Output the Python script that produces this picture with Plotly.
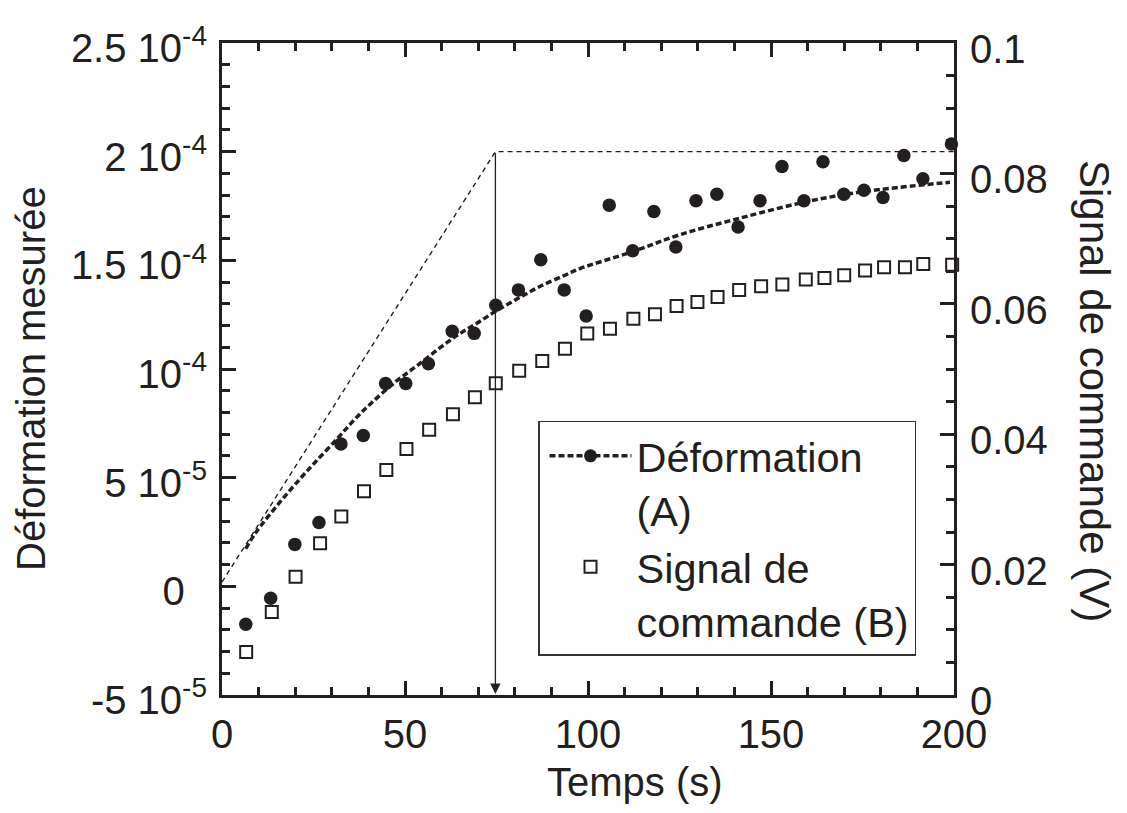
import plotly.graph_objects as go

# ---- data ----
t_def = [6.5, 13.3, 19.9, 26.5, 32.5, 38.6, 44.7, 50.2, 56.4, 62.9, 68.9, 74.8, 81.0, 87.1, 93.5,
         99.5, 105.8, 112.2, 118.0, 124.0, 129.5, 135.2, 141.0, 147.0, 153.0, 159.0, 164.2, 169.9,
         175.4, 180.6, 186.3, 191.5, 199.3]
def_e5 = [-1.74, -0.55, 1.93, 2.94, 6.55, 6.94, 9.33, 9.33, 10.24, 11.74, 11.64, 12.93, 13.64, 15.03,
          13.64, 12.44, 17.54, 15.44, 17.25, 15.61, 17.74, 18.04, 16.53, 17.74, 19.32, 17.74, 19.54,
          18.04, 18.22, 17.89, 19.82, 18.75, 20.35]

t_sig = [6.6, 13.6, 20.1, 26.8, 32.6, 38.8, 44.9, 50.4, 56.6, 63.1, 69.1, 74.8, 81.2, 87.5, 93.7,
         99.8, 106.0, 112.4, 118.3, 124.2, 129.9, 135.4, 141.3, 147.3, 153.1, 159.5, 164.6, 170.0,
         175.7, 180.9, 186.6, 191.6, 199.5]
sig_v = [0.00658, 0.01274, 0.01815, 0.02329, 0.02737, 0.03124, 0.03451, 0.03772, 0.04067, 0.04307,
         0.04567, 0.04781, 0.04974, 0.05122, 0.0531, 0.05543, 0.05616, 0.05772, 0.05841, 0.05968,
         0.06027, 0.06105, 0.06212, 0.06269, 0.06295, 0.06371, 0.06396, 0.06437, 0.06509, 0.06559,
         0.06559, 0.0661, 0.066]

fit_t = [6.5, 9.0, 15.8, 21.3, 25.4, 31.8, 36.3, 40.9, 47.7, 53.2, 59.6, 64.6, 69.6, 75.0, 81.0,
         87.1, 93.5, 97.8, 112.4, 125.1, 141.5, 159.8, 175.2, 198.9]
fit_e5 = [1.73, 2.42, 3.87, 4.94, 5.70, 6.85, 7.69, 8.45, 9.45, 10.14, 10.98, 11.59, 12.10, 12.68,
          13.26, 13.82, 14.30, 14.62, 15.41, 16.18, 16.94, 17.7, 18.16, 18.59]

# tau construction (tangent at origin, plateau, time constant)
tan_t = [0, 74.7, 200]
tan_e5 = [0.2, 20.0, 20.0]
tau = 74.7

y_tickvals = [-5e-5, 0, 5e-5, 1e-4, 1.5e-4, 2e-4, 2.5e-4]
y_ticktext = ["-5 10<sup>-5</sup>", "0\u00a0\u00a0", "5 10<sup>-5</sup>", "10<sup>-4</sup>",
              "1.5 10<sup>-4</sup>", "2 10<sup>-4</sup>", "2.5 10<sup>-4</sup>"]

INK = "#231f20"
FONT = "Liberation Sans, Arial, sans-serif"

# page body has an 8px default margin; plot area target: x 222-954, y 41-695 in the window
OFF = 8
L, T, PW, PH = 222 - OFF, 41 - OFF, 732, 654
W, H = 1127 - 2 * OFF, 813 - 2 * OFF


def px(xw):
    return (xw - 222) / PW


def py(yw):
    return (695 - yw) / PH


fig = go.Figure()

fig.add_trace(go.Scatter(x=tan_t, y=[v * 1e-5 for v in tan_e5], mode="lines",
                         line=dict(color=INK, width=1.4, dash="5px,4px"),
                         showlegend=False, hoverinfo="skip"))

fig.add_trace(go.Scatter(x=fit_t, y=[v * 1e-5 for v in fit_e5], mode="lines",
                         line=dict(color=INK, width=3.5, dash="6px,3px", shape="spline"),
                         showlegend=False))

fig.add_trace(go.Scatter(x=t_def, y=[v * 1e-5 for v in def_e5], mode="markers",
                         marker=dict(symbol="circle", size=13.5, color=INK),
                         showlegend=False, cliponaxis=False))

# legend entry for deformation (line + marker)
fig.add_trace(go.Scatter(x=[None], y=[None], mode="lines+markers",
                         name="Déformation<br>(A)",
                         line=dict(color=INK, width=3.5, dash="6px,3px"),
                         marker=dict(symbol="circle", size=13, color=INK)))

fig.add_trace(go.Scatter(x=t_sig, y=sig_v, yaxis="y2", mode="markers",
                         name="Signal de<br>commande (B)",
                         marker=dict(symbol="square-open", size=12, color=INK, line=dict(width=2, color=INK)),
                         cliponaxis=False))

fig.add_annotation(x=tau, y=-5e-5, ax=tau, ay=2e-4, xref="x", yref="y", axref="x", ayref="y",
                   showarrow=True, arrowhead=2, arrowsize=1.6, arrowwidth=1.3, arrowcolor=INK,
                   text="", standoff=1)

# axis titles
fig.add_annotation(text="Temps (s)", x=px(634.5), y=py(782), xref="paper", yref="paper",
                   xanchor="center", yanchor="middle", showarrow=False,
                   font=dict(size=40, color=INK, family=FONT))
fig.add_annotation(text="Déformation mesurée", x=px(31), y=py(378),
                   xref="paper", yref="paper", xanchor="center", yanchor="middle",
                   showarrow=False, textangle=-90,
                   font=dict(size=40, color=INK, family=FONT))
fig.add_annotation(text="Signal de commande (V)", x=px(1094), y=py(390),
                   xref="paper", yref="paper", xanchor="center", yanchor="middle",
                   showarrow=False, textangle=90,
                   font=dict(size=42, color=INK, family=FONT))

axis_common = dict(showline=True, linewidth=3, linecolor=INK, ticks="inside", tickwidth=2.5,
                   tickcolor=INK, ticklen=14, showgrid=False, zeroline=False,
                   tickfont=dict(size=40, color=INK, family=FONT))

fig.update_layout(
    width=W, height=H,
    margin=dict(l=L, r=W - L - PW, t=T, b=H - T - PH),
    paper_bgcolor="white", plot_bgcolor="white",
    font=dict(family=FONT, size=40, color=INK),
    xaxis=dict(range=[0, 200], tickvals=[0, 50, 100, 150, 200], mirror="ticks",
               minor=dict(tickmode="linear", tick0=0, dtick=10, ticklen=8, tickwidth=2.5,
                          tickcolor=INK, ticks="inside"),
               ticklabelstandoff=2, **axis_common),
    yaxis=dict(range=[-5e-5, 2.5e-4], tickmode="array", tickvals=y_tickvals, ticktext=y_ticktext,
               minor=dict(tickmode="linear", tick0=0, dtick=1e-5, ticklen=8, tickwidth=2.5,
                          tickcolor=INK, ticks="inside"),
               ticklabelstandoff=4, ticklabelshift=5, **axis_common),
    yaxis2=dict(range=[0, 0.1], overlaying="y", side="right", tickmode="linear", tick0=0, dtick=0.02,
                minor=dict(tickmode="linear", tick0=0, dtick=0.005, ticklen=8, tickwidth=2.5,
                           tickcolor=INK, ticks="inside"),
                ticklabelstandoff=5, ticklabelshift=6, **axis_common),
    legend=dict(x=px(538), y=py(420), xanchor="left", yanchor="top",
                bgcolor="white", bordercolor="#333333", borderwidth=1.5,
                font=dict(size=41.5, color=INK, family=FONT), valign="top",
                itemwidth=82, indentation=5, tracegroupgap=0),
)

fig.write_html("out.html")
